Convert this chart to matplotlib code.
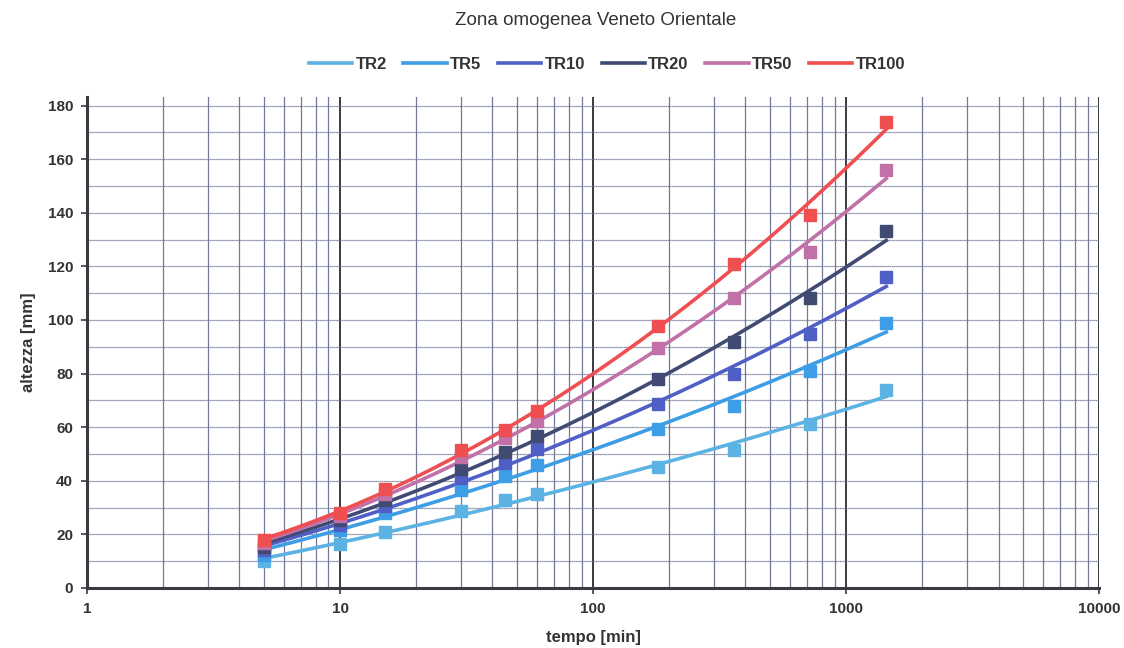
import matplotlib
matplotlib.use('Agg')
import matplotlib.pyplot as plt
import matplotlib.ticker as mticker
import numpy as np

plt.rcParams['font.family'] = ['Liberation Sans', 'DejaVu Sans']

# durate [min]
tempo = [5, 10, 15, 30, 45, 60, 180, 360, 720, 1440]

# altezze osservate [mm] per tempo di ritorno
tr2 = [10.0, 16.4, 20.9, 28.7, 32.8, 35.0, 45.0, 51.4, 61.0, 74.0]
tr5 = [12.3, 21.6, 28.0, 36.5, 41.7, 45.8, 59.2, 67.8, 81.0, 99.0]
tr10 = [14.2, 23.5, 30.5, 41.0, 46.5, 51.8, 68.5, 79.7, 94.6, 116.0]
tr20 = [15.3, 25.3, 32.8, 44.3, 50.6, 56.6, 77.8, 91.6, 108.0, 133.0]
tr50 = [16.8, 26.8, 35.0, 48.8, 56.0, 62.2, 89.4, 108.0, 125.5, 156.0]
tr100 = [17.9, 27.9, 36.9, 51.4, 58.8, 65.9, 97.6, 121.0, 139.0, 174.0]

labels = ['TR2', 'TR5', 'TR10', 'TR20', 'TR50', 'TR100']
series = [tr2, tr5, tr10, tr20, tr50, tr100]
colors = ['#5cb3e3', '#3d9ee6', '#4f5fc6', '#414a72', '#c271a8', '#f04f52']

fig = plt.figure(figsize=(11.24, 6.48), dpi=100)
ax = fig.add_axes([0.0774, 0.0926, 0.9006, 0.757])

t = np.array(tempo, dtype=float)
lt = np.log10(t)
tt = np.logspace(lt[0], lt[-1], 200)
for lab, h, col in zip(labels, series, colors):
    # curva di tendenza polinomiale (2° grado) in log(t)
    c = np.polyfit(lt, h, 2)
    ax.plot(tt, np.polyval(c, np.log10(tt)), color=col, lw=2.6, label=lab, zorder=3)
    ax.plot(t, h, 's', color=col, ms=8, zorder=4)

ax.set_xscale('log')
ax.set_xlim(1, 10000)
ax.set_ylim(0, 183)
ax.set_yticks(np.arange(0, 181, 20))
ax.yaxis.set_minor_locator(mticker.MultipleLocator(10))
ax.xaxis.set_major_formatter(mticker.FuncFormatter(lambda v, p: f'{v:g}'))
ax.xaxis.set_minor_formatter(mticker.NullFormatter())

ax.grid(True, which='major', axis='x', color='#2a2a30', lw=1.3)
ax.grid(True, which='minor', axis='x', color='#737a98', lw=0.9)
ax.grid(True, which='both', axis='y', color='#6d7390', lw=0.9, ls=(0, (1, 0.6)))
ax.set_axisbelow(True)

for s in ['top', 'right']:
    ax.spines[s].set_visible(False)
for s in ['left', 'bottom']:
    ax.spines[s].set_color('#3a3a40')
    ax.spines[s].set_linewidth(2.2)

ax.tick_params(axis='y', which='major', length=4, width=1.2, color='#3a3a40',
               labelsize=11, labelcolor='#333333', pad=6)
ax.tick_params(axis='y', which='minor', length=0)
ax.tick_params(axis='x', which='major', length=4, width=1.2, color='#3a3a40',
               labelsize=11, labelcolor='#333333', pad=6)
ax.tick_params(axis='x', which='minor', length=0)
for lbl in ax.get_yticklabels() + ax.get_xticklabels():
    lbl.set_fontweight('bold')

ax.set_xlabel('tempo [min]', fontsize=12, fontweight='bold', color='#333333', labelpad=10)
ax.set_ylabel('altezza [mm]', fontsize=12, fontweight='bold', color='#333333', labelpad=8)

fig.suptitle('Zona omogenea Veneto Orientale', x=0.53, y=0.982, fontsize=13.5, color='#333333')
fig.legend(loc='upper center', bbox_to_anchor=(0.54, 0.935), ncol=6, frameon=False,
           handlelength=2.6, handletextpad=0.2, columnspacing=1.0,
           prop={'weight': 'bold', 'size': 12})
for txt in fig.legends[0].get_texts():
    txt.set_color('#333333')

fig.savefig('out.png', dpi=100)
